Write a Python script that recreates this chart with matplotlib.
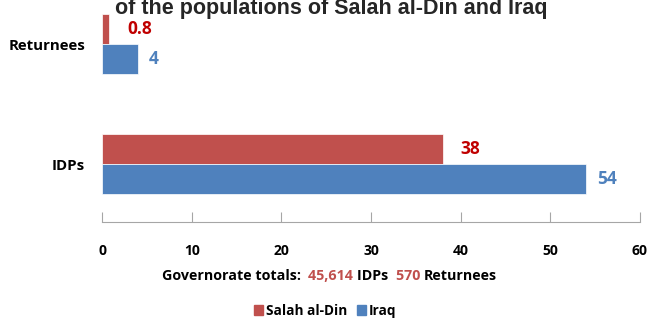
import matplotlib.pyplot as plt
import numpy as np

categories = ["IDPs", "Returnees"]
salah = [38, 0.8]
iraq = [54, 4]
salah_labels = ["38", "0.8"]
iraq_labels = ["54", "4"]
xticks = [0, 10, 20, 30, 40, 50, 60]
totals = [("Governorate totals:  ", "black"), ("45,614 ", "#C0504D"), ("IDPs  ", "black"),
          ("570 ", "#C0504D"), ("Returnees", "black")]

red = "#C0504D"
blue = "#4F81BD"
font = ["Open Sans", "DejaVu Sans"]

fig = plt.figure(figsize=(6.52, 3.23), dpi=100)
ax = fig.add_axes([102 / 652, 1 - 222 / 323, 538 / 652, 222 / 323])

y = np.arange(len(categories))
h = 0.25
ax.barh(y + h / 2, salah, height=h, color=red, edgecolor="white", linewidth=0.5)
ax.barh(y - h / 2, iraq, height=h, color=blue, edgecolor="white", linewidth=0.5)

ax.set_xlim(0, 60)
ax.set_ylim(-0.483, 1.367)
ax.set_yticks(y)
ax.set_yticklabels(categories, fontsize=10.8, fontweight="bold", family=font)
ax.tick_params(axis="y", length=0, pad=12)
ax.set_xticks(xticks)
ax.set_xticklabels([str(t) for t in xticks], fontsize=10, fontweight="bold", family=font)
ax.tick_params(axis="x", direction="in", length=7, color="#A6A6A6", pad=16)
for s in ["top", "right", "left"]:
    ax.spines[s].set_visible(False)
ax.spines["bottom"].set_color("#A6A6A6")

# value labels beside each bar
for yi, v, lab in zip(y, salah, salah_labels):
    ax.annotate(lab, (v, yi + h / 2), xytext=(18, 0), textcoords="offset pixels",
                va="center", ha="left", color="#C00000", fontsize=12.5,
                fontweight="bold", family=font)
for yi, v, lab in zip(y, iraq, iraq_labels):
    ax.annotate(lab, (v, yi - h / 2), xytext=(11, 0), textcoords="offset pixels",
                va="center", ha="left", color=blue, fontsize=12.5,
                fontweight="bold", family=font)

# title, top line runs off the canvas
fig.text(331 / 652, 1 - 14 / 323, "of the populations of Salah al-Din and Iraq",
         ha="center", va="baseline", fontsize=15.5, fontweight="bold",
         family="Liberation Sans", color="#262626")

# governorate totals line, built piece by piece
renderer = fig.canvas.get_renderer()
xpos = 162
for txt, col in totals:
    t = fig.text(xpos / 652, 1 - 276 / 323, txt, ha="left", va="center",
                 fontsize=10.3, fontweight="bold", family=font, color=col)
    xpos += t.get_window_extent(renderer).width

handles = [plt.Rectangle((0, 0), 1, 1, color=red), plt.Rectangle((0, 0), 1, 1, color=blue)]
fig.legend(handles, ["Salah al-Din", "Iraq"], loc="center", bbox_to_anchor=(325 / 652, 1 - 311 / 323),
           ncol=2, frameon=False, handlelength=0.7, handleheight=0.7, handletextpad=0.2,
           columnspacing=0.7, prop={"family": font, "weight": "bold", "size": 9.8})

fig.savefig("out.png", dpi=100)
